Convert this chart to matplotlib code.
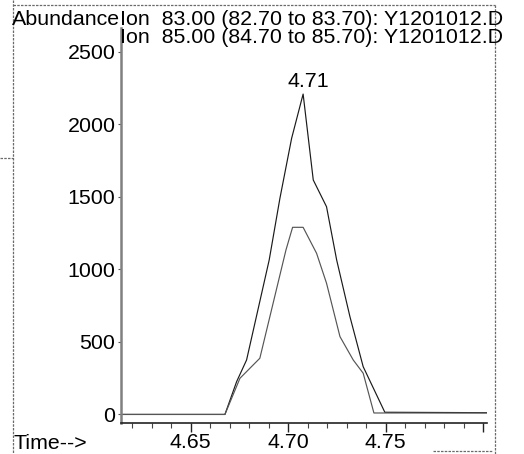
import matplotlib
matplotlib.use("Agg")
import matplotlib.pyplot as plt
from matplotlib.lines import Line2D

plt.rcParams['font.family'] = ['Liberation Sans', 'DejaVu Sans']

# Extracted ion chromatograms (time in min, abundance in counts)
ion83_time = [4.6143, 4.6676, 4.6736, 4.6787, 4.6903, 4.6958, 4.7018, 4.7077,
              4.7129, 4.7197, 4.7249, 4.7317, 4.7385, 4.7496, 4.8020]
ion83_abund = [0, 0, 226, 375, 1064, 1489, 1902, 2207,
               1615, 1431, 1064, 674, 329, 15, 12]

ion85_time = [4.6143, 4.6676, 4.6753, 4.6855, 4.6989, 4.7023, 4.7077, 4.7146,
              4.7197, 4.7266, 4.7334, 4.7385, 4.7440, 4.8020]
ion85_abund = [0, 0, 249, 387, 1133, 1289, 1289, 1110,
               904, 536, 375, 284, 10, 10]

peak_time = 4.7077
peak_abund = 2207
peak_label = "4.71"

title_lines = ["Ion  83.00 (82.70 to 83.70): Y1201012.D",
               "Ion  85.00 (84.70 to 85.70): Y1201012.D"]
y_ticks = [0, 500, 1000, 1500, 2000, 2500]
x_major = [4.65, 4.70, 4.75, 4.80]
x_major_labels = ["4.65", "4.70", "4.75", ""]
x_minor = [4.62, 4.63, 4.64, 4.66, 4.67, 4.68, 4.69, 4.71, 4.72, 4.73,
           4.74, 4.76, 4.77, 4.78, 4.79]

W, H = 524, 454
FS = 15.4
fig = plt.figure(figsize=(W / 100, H / 100), dpi=100)


def fx(x):
    return x / W


def fy(y):
    return 1 - y / H


ax = fig.add_axes([fx(121), fy(423), fx(487) - fx(121), fy(28) - fy(423)])
ax.set_xlim(4.6143, 4.802)
ax.set_ylim(-59, 2662)

ax.plot(ion83_time, ion83_abund, color="#1a1a1a", lw=0.85)
ax.plot(ion85_time, ion85_abund, color="#555555", lw=0.85)

ax.annotate(peak_label, xy=(peak_time, peak_abund), xytext=(5, 3),
            textcoords="offset pixels", ha="center", va="bottom",
            fontsize=FS)

for s in ("top", "right"):
    ax.spines[s].set_visible(False)
ax.spines["left"].set_color("#808080")
ax.spines["left"].set_linewidth(1.8)
ax.spines["bottom"].set_color("#222222")
ax.spines["bottom"].set_linewidth(1.2)

ax.set_yticks(y_ticks)
ax.set_yticklabels([str(v) for v in y_ticks])
ax.tick_params(axis="y", direction="out", length=2.5, width=0.8, pad=1.5,
               labelsize=FS, color="#555555")
ax.set_xticks(x_major)
ax.set_xticklabels(x_major_labels)
ax.set_xticks(x_minor, minor=True)
ax.tick_params(axis="x", which="major", direction="out", length=6.5,
               width=1.0, pad=1.0, labelsize=FS, color="#222222")
ax.tick_params(axis="x", which="minor", direction="out", length=3.5,
               width=0.8, color="#444444")

# header texts
fig.text(fx(12), fy(25), "Abundance", fontsize=FS, va="baseline", ha="left")
fig.text(fx(120), fy(25), title_lines[0], fontsize=FS, va="baseline", ha="left")
fig.text(fx(120), fy(43), title_lines[1], fontsize=FS, va="baseline", ha="left")
fig.text(fx(14), fy(449), "Time-->", fontsize=FS, va="baseline", ha="left")

# page frame around the printout
frame_kw = dict(color="#6a6a6a", lw=0.9, linestyle=(0, (2, 1)),
                transform=fig.transFigure)
fig.add_artist(Line2D([fx(13), fx(495)], [fy(5), fy(5)], **frame_kw))
fig.add_artist(Line2D([fx(13), fx(13)], [fy(0), fy(454)], **frame_kw))
fig.add_artist(Line2D([fx(495), fx(495)], [fy(5), fy(454)], **frame_kw))
fig.add_artist(Line2D([fx(0), fx(13)], [fy(158), fy(158)], **frame_kw))
fig.add_artist(Line2D([fx(433), fx(493)], [fy(451), fy(451)], **frame_kw))

fig.savefig("out.png", dpi=100)
